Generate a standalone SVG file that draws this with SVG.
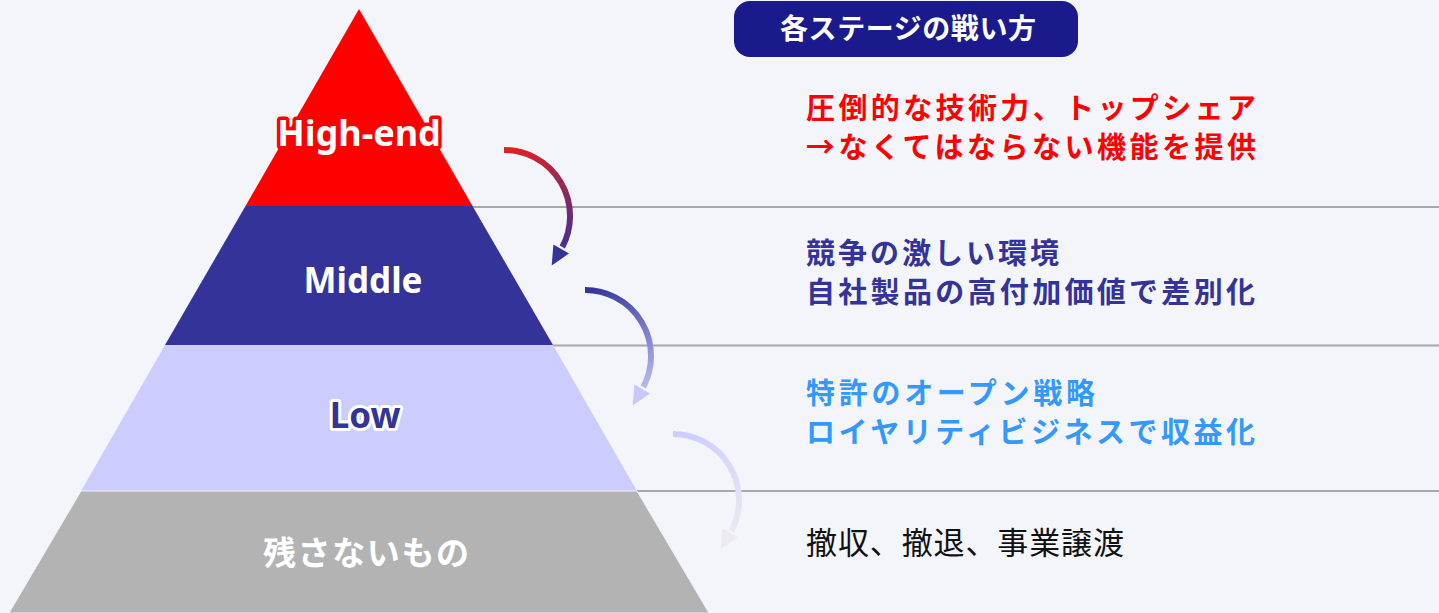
<svg xmlns="http://www.w3.org/2000/svg" width="1439" height="613" viewBox="0 0 1439 613">
  <style>
    .lbl { font-family: "Noto Sans", "Open Sans", "Liberation Sans", sans-serif; font-weight: 700; text-anchor: middle; }
    .jp { font-family: "Noto Sans CJK JP", "Noto Sans", sans-serif; }
    .desc { font-family: "Noto Sans CJK JP", "Noto Sans", sans-serif; font-size: 29px; font-weight: 700; }
    .sep { stroke: #a8a8a8; stroke-width: 2; fill: none; }
    .arc { fill: none; stroke-width: 6; }
  </style>
  <defs>
    <linearGradient id="g1" gradientUnits="userSpaceOnUse" x1="504" y1="150" x2="556" y2="265">
      <stop offset="0" stop-color="#e42020"/>
      <stop offset="1" stop-color="#333399"/>
    </linearGradient>
    <linearGradient id="g2" gradientUnits="userSpaceOnUse" x1="504" y1="150" x2="556" y2="265">
      <stop offset="0" stop-color="#333399"/>
      <stop offset="1" stop-color="#c8c8fa"/>
    </linearGradient>
    <linearGradient id="g3" gradientUnits="userSpaceOnUse" x1="504" y1="150" x2="556" y2="265">
      <stop offset="0" stop-color="#ccccff"/>
      <stop offset="1" stop-color="#ececf0"/>
    </linearGradient>
  </defs>

  <rect x="0" y="0" width="1439" height="613" fill="#f4f5fb"/>

  <g id="separators">
    <line class="sep" x1="472" y1="207" x2="1439" y2="207"/>
    <line class="sep" x1="553" y1="345.5" x2="1439" y2="345.5"/>
    <line class="sep" x1="637" y1="491" x2="1439" y2="491"/>
  </g>

  <g id="layer-highend">
    <polygon points="359,9 472.5,206 245.5,206" fill="#ff0000"/>
    <text class="lbl" x="359" y="146" font-size="36" fill="#ffffff" stroke="#ff0000" stroke-width="7" stroke-linejoin="round" paint-order="stroke">High-end</text>
  </g>

  <g id="layer-middle">
    <polygon points="245.5,206 472.5,206 553,345 165,345" fill="#333399"/>
    <text class="lbl" x="363" y="293" font-size="35" fill="#ffffff">Middle</text>
  </g>

  <g id="layer-low">
    <polygon points="165,345 553,345 637,491 81,491" fill="#ccccff"/>
    <text class="lbl" x="365" y="428" font-size="35" fill="#333399" stroke="#ffffff" stroke-width="6" stroke-linejoin="round" paint-order="stroke">Low</text>
  </g>

  <g id="layer-discard">
    <polygon points="81,491 637,491 709,613 9,613" fill="#b3b3b3" stroke="#f0f0ff" stroke-width="1"/>
    <text class="jp" x="263" y="565" font-size="33" font-weight="700" fill="#ffffff" textLength="206" lengthAdjust="spacing">残さないもの</text>
  </g>

  <g id="title">
    <rect x="734" y="1" width="344" height="56" rx="16" ry="16" fill="#1a1a8c"/>
    <text class="jp" x="780" y="39" font-size="28" font-weight="700" fill="#ffffff" textLength="256" lengthAdjust="spacing">各ステージの戦い方</text>
  </g>

  <g id="desc-highend">
    <text class="desc" x="806" y="119" fill="#ff0000" textLength="450" lengthAdjust="spacing">圧倒的な技術力、トップシェア</text>
    <text class="desc" x="806" y="158" fill="#ff0000" textLength="450" lengthAdjust="spacing">→なくてはならない機能を提供</text>
  </g>

  <g id="desc-middle">
    <text class="desc" x="806" y="264" fill="#333399" textLength="253" lengthAdjust="spacing">競争の激しい環境</text>
    <text class="desc" x="806" y="303" fill="#333399" textLength="449" lengthAdjust="spacing">自社製品の高付加価値で差別化</text>
  </g>

  <g id="desc-low">
    <text class="desc" x="806" y="404" fill="#3399ff" textLength="289" lengthAdjust="spacing">特許のオープン戦略</text>
    <text class="desc" x="806" y="443" fill="#3399ff" textLength="449" lengthAdjust="spacing">ロイヤリティビジネスで収益化</text>
  </g>

  <g id="desc-discard">
    <text class="jp" x="806" y="554" font-size="31" fill="#111111" textLength="318" lengthAdjust="spacing">撤収、撤退、事業譲渡</text>
  </g>

  <g id="connectors">
    <g id="arrow-1">
      <path class="arc" d="M504,150 A66,66 0 0 1 562.3,247" stroke="url(#g1)"/>
      <polygon points="553.4,244.5 569,253.5 551.7,265.5" fill="#333399"/>
    </g>
    <g id="arrow-2" transform="translate(81,140)">
      <path class="arc" d="M504,150 A66,66 0 0 1 562.3,247" stroke="url(#g2)"/>
      <polygon points="553.4,244.5 569,253.5 551.7,265.5" fill="#c8c8fa"/>
    </g>
    <g id="arrow-3" transform="translate(169,284)">
      <path class="arc" d="M504,150 A66,66 0 0 1 562.3,247" stroke="url(#g3)"/>
      <polygon points="553.4,244.5 569,253.5 551.7,265.5" fill="#ececf0"/>
    </g>
  </g>
</svg>
